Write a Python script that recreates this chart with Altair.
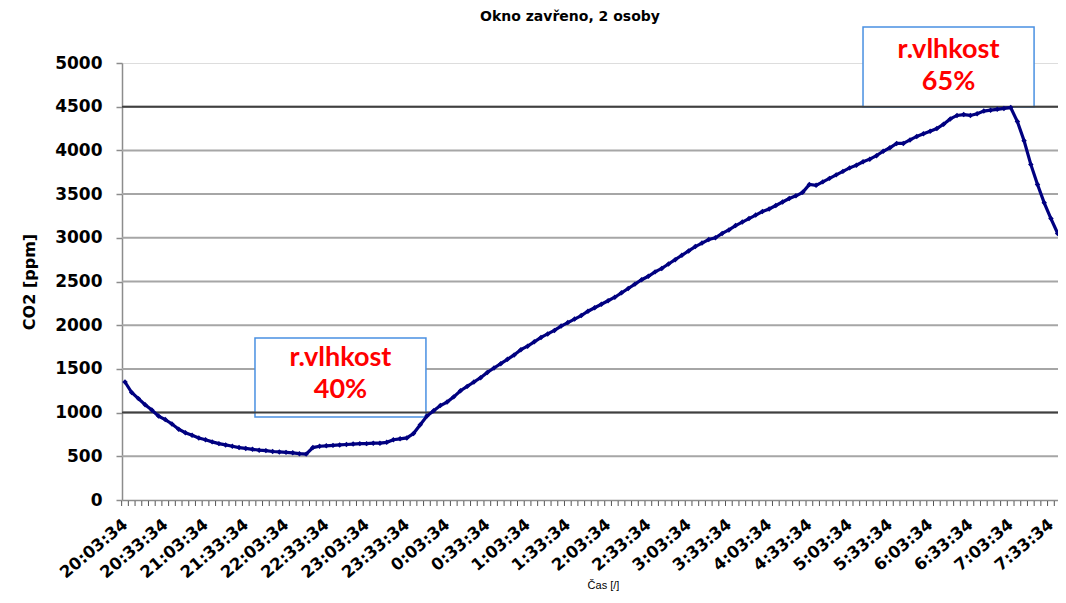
import altair as alt
import pandas as pd

# ---- data ----
start_time = "2020-01-01 20:03:34"
co2_ppm = [1350, 1230, 1160, 1090, 1030, 960, 920, 870, 810, 770,
           740, 710, 690, 665, 645, 630, 615, 600, 590, 580,
           570, 565, 555, 550, 545, 540, 530, 525, 600, 615,
           620, 625, 630, 635, 640, 645, 645, 650, 650, 660,
           690, 700, 710, 760, 860, 960, 1020, 1080, 1120, 1180,
           1250, 1300, 1350, 1400, 1460, 1510, 1560, 1610, 1660, 1720,
           1760, 1810, 1860, 1900, 1940, 1990, 2030, 2070, 2110, 2160,
           2200, 2240, 2280, 2320, 2370, 2420, 2470, 2520, 2560, 2610,
           2650, 2700, 2750, 2800, 2850, 2900, 2940, 2980, 3000, 3050,
           3090, 3140, 3180, 3220, 3260, 3300, 3330, 3370, 3410, 3450,
           3480, 3520, 3610, 3600, 3640, 3680, 3720, 3760, 3800, 3830,
           3870, 3900, 3940, 3990, 4030, 4080, 4080, 4120, 4160, 4190,
           4220, 4250, 4300, 4360, 4400, 4410, 4400, 4420, 4450, 4460,
           4470, 4480, 4490, 4330, 4110, 3840, 3610, 3400, 3220, 3050]

grid_values = [500, 1000, 1500, 2000, 2500, 3000, 3500, 4000, 4500]
dark_lines = [1000, 4500]
y_ticks = [0, 500, 1000, 1500, 2000, 2500, 3000, 3500, 4000, 4500, 5000]

ann_x_start = ["2020-01-01T21:40:26", "2020-01-02T05:13:32"]
ann_x_end = ["2020-01-01T23:47:50", "2020-01-02T07:21:00"]
ann_x_mid = ["2020-01-01T22:44:08", "2020-01-02T06:17:16"]
ann_top = [1853, 5411]
ann_bottom = [950, 4496]
ann_line1 = ["r.vlhkost", "r.vlhkost"]
ann_line2 = ["40%", "65%"]
ann_line1_y = [1624, 5148]
ann_line2_y = [1258, 4782]

times = pd.date_range(start_time, periods=len(co2_ppm), freq="5min")
df = pd.DataFrame({"t": times.strftime("%Y-%m-%dT%H:%M:%S"), "co2": co2_ppm})

bounds = pd.date_range("2020-01-01 20:01:04", periods=len(co2_ppm) + 1, freq="5min")
df_ticks = pd.DataFrame({"t": bounds.strftime("%Y-%m-%dT%H:%M:%S")})

label_times = pd.date_range(start_time, periods=24, freq="30min")
label_values = [alt.DateTime(year=d.year, month=d.month, date=d.day,
                             hours=d.hour, minutes=d.minute, seconds=d.second)
                for d in label_times]

df_grid = pd.DataFrame({"v": grid_values})
df_dark = pd.DataFrame({"v": dark_lines})
df_ann = pd.DataFrame({"x1": ann_x_start, "x2": ann_x_end, "xm": ann_x_mid,
                       "top": ann_top, "bot": ann_bottom,
                       "l1": ann_line1, "l2": ann_line2,
                       "y1": ann_line1_y, "y2": ann_line2_y})

W, H = 936, 437
xscale = alt.Scale(domain=[alt.DateTime(year=2020, month=1, date=1, hours=20, minutes=1, seconds=20),
                           alt.DateTime(year=2020, month=1, date=2, hours=7, minutes=38, seconds=50)])
yscale = alt.Scale(domain=[0, 5000], nice=False)

FONT = "DejaVu Sans"

x_axis = alt.Axis(values=label_values, format="%-H:%M:%S", labelAngle=320,
                  labelAlign="right", labelBaseline="middle",
                  labelFont=FONT, labelFontWeight="bold", labelFontSize=16.5,
                  labelColor="black", labelPadding=22, ticks=False, grid=False,
                  labelOverlap=False, labelFlush=False,
                  domainColor="#8c8c8c", domainWidth=1.5,
                  title="Čas [/]", titleFont="Liberation Sans", titleFontSize=11,
                  titleFontWeight="normal", titleColor="black",
                  titleX=481, titleY=85, titleAlign="center", titleBaseline="middle")

y_axis = alt.Axis(values=y_ticks, format="d", labelFont=FONT, labelFontWeight="bold",
                  labelFontSize=17, labelColor="black", labelPadding=14,
                  tickSize=6, tickColor="#8c8c8c", tickWidth=1.5,
                  domainColor="#8c8c8c", domainWidth=1.5, grid=False,
                  title="CO2 [ppm]", titleFont=FONT, titleFontWeight="bold",
                  titleFontSize=16, titleColor="black", titlePadding=17)

base = alt.Chart(df)

grid = alt.Chart(df_grid).mark_rule(color="#a6a6a6", strokeWidth=2).encode(
    y=alt.Y("v:Q", scale=yscale, axis=y_axis))

minor_ticks = alt.Chart(df_ticks).mark_rule(color="#555555", strokeWidth=1).encode(
    x=alt.X("t:T", scale=xscale, axis=x_axis),
    y=alt.value(H + 1), y2=alt.value(H + 6))

boxes = alt.Chart(df_ann).mark_rect(fill="white", stroke="#4a90e2", strokeWidth=1.5).encode(
    x=alt.X("x1:T", scale=xscale), x2="x2:T",
    y=alt.Y("top:Q", scale=yscale), y2="bot:Q")

dark = alt.Chart(df_dark).mark_rule(color="#404040", strokeWidth=2).encode(
    y=alt.Y("v:Q", scale=yscale))

line = base.mark_line(color="#000080", strokeWidth=3.2).encode(
    x=alt.X("t:T", scale=xscale),
    y=alt.Y("co2:Q", scale=yscale))

pts = base.mark_point(shape="diamond", size=30, filled=True, color="#000080",
                      opacity=1).encode(
    x=alt.X("t:T", scale=xscale),
    y=alt.Y("co2:Q", scale=yscale))

txt1 = alt.Chart(df_ann).mark_text(font="Lato", fontWeight="bold", fontSize=27,
                                   color="#ff0000", baseline="middle", align="center").encode(
    x=alt.X("xm:T", scale=xscale), y=alt.Y("y1:Q", scale=yscale), text="l1:N")
txt2 = alt.Chart(df_ann).mark_text(font="Lato", fontWeight="bold", fontSize=27,
                                   color="#ff0000", baseline="middle", align="center").encode(
    x=alt.X("xm:T", scale=xscale), y=alt.Y("y2:Q", scale=yscale), text="l2:N")

chart = alt.layer(grid, minor_ticks, boxes, dark, line, pts, txt1, txt2).properties(
    width=W, height=H,
    title=alt.TitleParams("Okno zavřeno, 2 osoby", font=FONT, fontSize=14,
                          fontWeight="bold", color="black", anchor="middle",
                          dx=-20, offset=2),
    padding={"left": 114, "top": 55, "right": 0, "bottom": 93},
    autosize=alt.AutoSizeParams(type="none"),
).configure_view(stroke=None).configure(background="white")

chart.save("out.html", embed_options={"renderer": "svg", "actions": False})
